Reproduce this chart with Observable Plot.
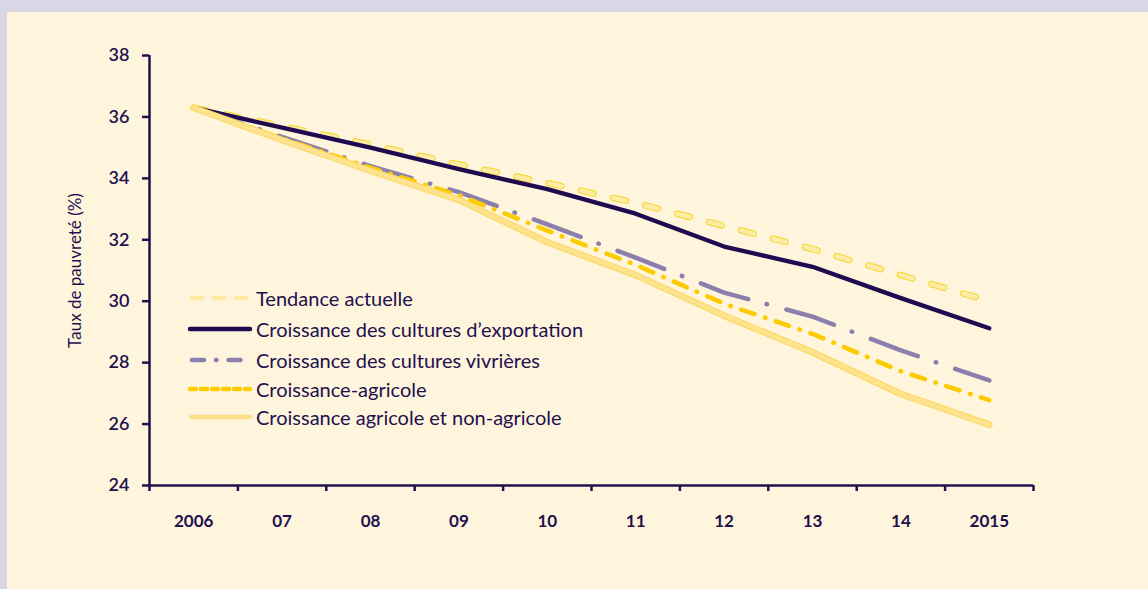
<!DOCTYPE html>
<html><head><meta charset="utf-8">
<script src="https://cdn.jsdelivr.net/npm/d3@7"></script>
<script src="https://cdn.jsdelivr.net/npm/@observablehq/plot@0.6"></script>
<style>
html,body{margin:0;padding:0;}
body{width:1148px;height:589px;background:#d9d6e6;position:relative;overflow:hidden;font-family:Lato,"Open Sans",sans-serif;}
#panel{position:absolute;left:7px;top:12px;right:0;bottom:0;background:#fff5dc;}
#chart{position:absolute;left:0;top:0;}
.item{position:absolute;left:188px;height:26px;display:flex;align-items:center;white-space:nowrap;color:#22104f;font-size:20px;}
.item svg{width:64px;height:12px;margin-right:4px;overflow:visible;}
</style></head>
<body><div id="panel"></div><div id="chart"></div><div id="legend"></div>
<script>
const years = ["2006","07","08","09","10","11","12","13","14","2015"];
const yTicks = [24,26,28,30,32,34,36,38];
const seriesNames = ["Tendance actuelle","Croissance des cultures d\u2019exportation","Croissance des cultures vivrières","Croissance-agricole","Croissance agricole et non-agricole"];
const tendance  = [36.3, 35.7, 35.1, 34.45, 33.85, 33.2, 32.45, 31.7, 30.85, 30.0];
const exportation = [36.3, 35.65, 35.0, 34.3, 33.65, 32.85, 31.78, 31.12, 30.1, 29.12];
const vivrieres = [36.3, 35.35, 34.4, 33.55, 32.5, 31.42, 30.28, 29.5, 28.4, 27.42];
const agricole  = [36.3, 35.3, 34.35, 33.45, 32.3, 31.18, 29.92, 28.94, 27.72, 26.78];
const nonAgricole = [36.3, 35.25, 34.25, 33.3, 31.92, 30.85, 29.53, 28.34, 26.98, 25.98];

const ink = "#22104f";
const rows = vals => vals.map((v, i) => ({i, v}));
const lineOpts = o => Object.assign({x: "i", y: "v", strokeLinecap: "round", strokeLinejoin: "round"}, o);

const chart = Plot.plot({
  width: 1148, height: 589,
  marginLeft: 149, marginRight: 115, marginTop: 55, marginBottom: 104,
  style: {background: "transparent", color: ink, fontFamily: "Lato, 'Open Sans', sans-serif"},
  x: {domain: [-0.5, years.length - 0.5], label: null},
  y: {domain: [24, 38], label: null},
  marks: [
    Plot.axisY({ticks: yTicks, tickSize: 7, tickPadding: 13, fontSize: 18, fontWeight: 600, strokeWidth: 2.5, stroke: ink, label: null}),
    Plot.axisX({ticks: d3.range(-0.5, years.length, 1), tickSize: 6, tickFormat: () => "", strokeWidth: 2.5, stroke: ink, label: null}),
    Plot.axisX({ticks: d3.range(years.length), tickSize: 0, tickPadding: 29, tickFormat: i => years[i], fontSize: 17, fontWeight: 700, label: null}),
    Plot.ruleY([24], {stroke: ink, strokeWidth: 2.5}),
    Plot.ruleX([-0.5], {stroke: ink, strokeWidth: 2.5}),
    Plot.text(["Taux de pauvreté (%)"], {frameAnchor: "left", textAnchor: "middle", dx: -74, rotate: -90, fontSize: 17, fill: ink}),
    Plot.line(rows(tendance), lineOpts({stroke: "#f3d622", strokeWidth: 6.5, strokeDasharray: "13,20"})),
    Plot.line(rows(tendance), lineOpts({stroke: "#fdeba6", strokeWidth: 4.6, strokeDasharray: "13,20"})),
    Plot.line(rows(exportation), lineOpts({stroke: "#200a50", strokeWidth: 4.3})),
    Plot.line(rows(vivrieres), lineOpts({stroke: "#8b80ad", strokeWidth: 4.5, strokeDasharray: "50,19,0.5,20"})),
    Plot.line(rows(agricole), lineOpts({stroke: "#fccb00", strokeWidth: 4.5, strokeDasharray: "14,11,0.5,11"})),
    Plot.line(rows(nonAgricole), lineOpts({stroke: "#fad552", strokeWidth: 6.5})),
    Plot.line(rows(nonAgricole), lineOpts({stroke: "#fee38e", strokeWidth: 4.8}))
  ]
});
document.getElementById("chart").appendChild(chart);

// legend (inside plot area)
const legendTops = [298, 329, 360, 389, 417];
const swatches = [
  `<line x1="4" y1="6" x2="62" y2="6" stroke="#fde9a0" stroke-width="4.5" stroke-linecap="round" stroke-dasharray="10,12"/>`,
  `<line x1="2" y1="6" x2="62" y2="6" stroke="#200a50" stroke-width="4.5" stroke-linecap="round"/>`,
  `<line x1="4" y1="6" x2="60" y2="6" stroke="#8b80ad" stroke-width="4.5" stroke-linecap="round" stroke-dasharray="12,12,0.5,12"/>`,
  `<line x1="2" y1="6" x2="62" y2="6" stroke="#fccb00" stroke-width="4.5" stroke-linecap="round" stroke-dasharray="6,5"/>`,
  `<line x1="3" y1="6" x2="62" y2="6" stroke="#fee08a" stroke-width="4.5" stroke-linecap="round"/>`
];
const legend = document.getElementById("legend");
seriesNames.forEach((name, k) => {
  const d = document.createElement("div");
  d.className = "item";
  d.style.top = (legendTops[k] - 13) + "px";
  d.innerHTML = `<svg viewBox="0 0 64 12">${swatches[k]}</svg><span>${name}</span>`;
  legend.appendChild(d);
});
</script>
</body></html>
